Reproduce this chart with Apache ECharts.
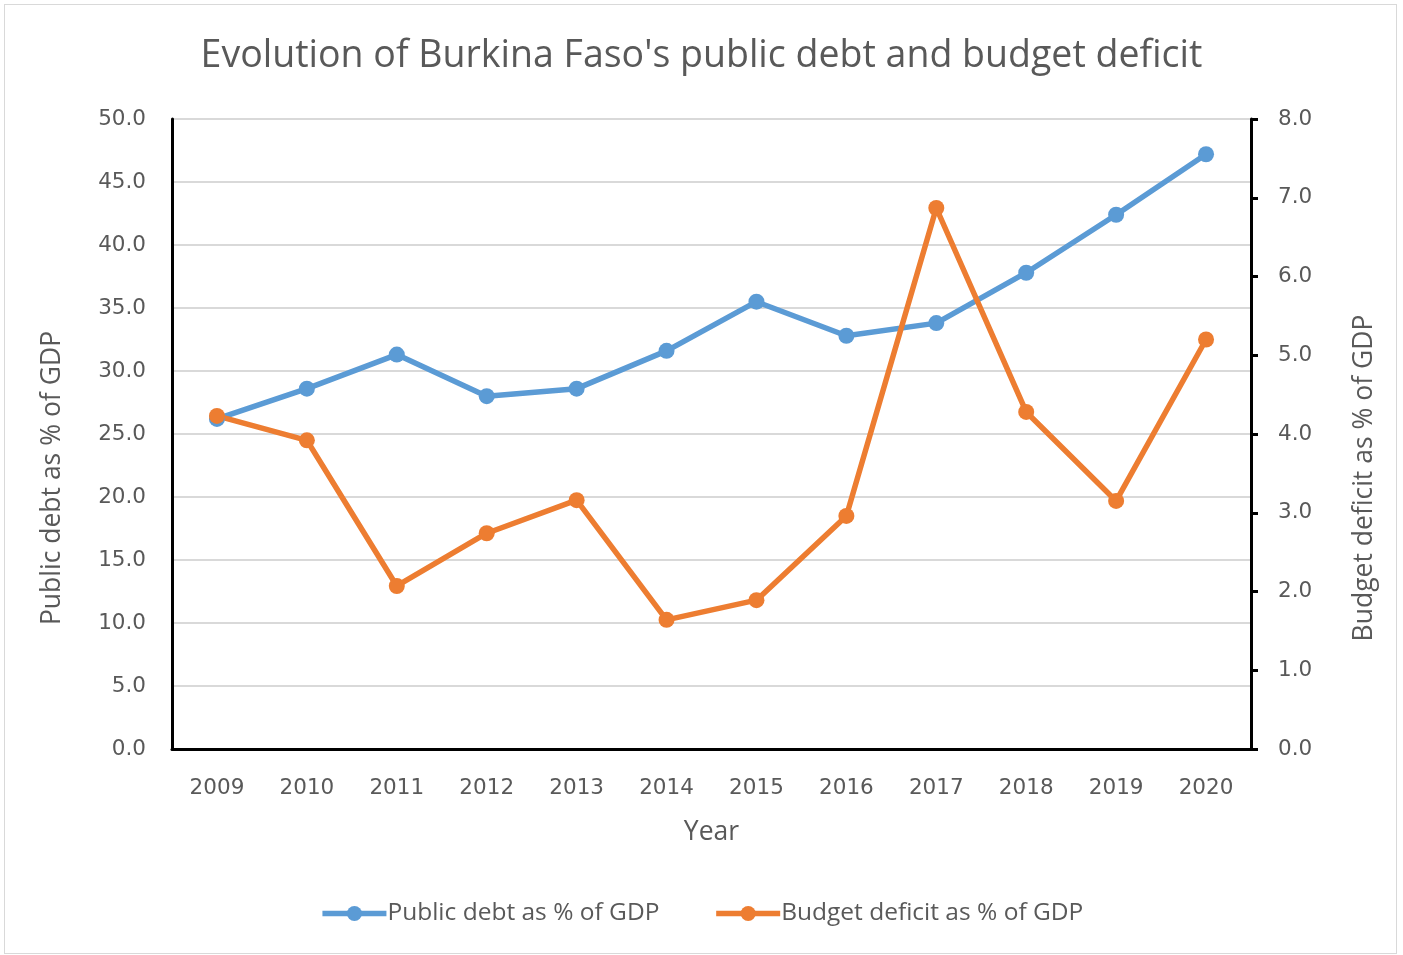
<!DOCTYPE html>
<html>
<head>
<meta charset="utf-8">
<script src="https://cdn.jsdelivr.net/npm/echarts@6/dist/echarts.min.js"></script>
<style>
  html, body { margin: 0; padding: 0; background: #fff; }
  #frame { position: absolute; left: 4px; top: 4px; width: 1393px; height: 950px; border: 1.5px solid #d9d9d9; box-sizing: border-box; }
  #chart { position: absolute; left: 0; top: 0; width: 1403px; height: 955px; }
</style>
</head>
<body>
<div id="frame"></div>
<div id="chart"></div>
<script>
// Burkina Faso: public debt and budget deficit, % of GDP
const years = ['2009', '2010', '2011', '2012', '2013', '2014', '2015', '2016', '2017', '2018', '2019', '2020'];
const publicDebt = [26.2, 28.6, 31.3, 28.0, 28.6, 31.6, 35.5, 32.8, 33.8, 37.8, 42.4, 47.2];
const budgetDeficit = [4.23, 3.92, 2.07, 2.74, 3.16, 1.64, 1.89, 2.96, 6.87, 4.28, 3.15, 5.20];

const textColor = '#595959';
const font = 'Open Sans';
const tickFont = 'DejaVu Sans';
const blue = '#5b9bd5';
const orange = '#ed7d31';

const chart = echarts.init(document.getElementById('chart'), null, { renderer: 'canvas' });
chart.setOption({
  animation: false,
  backgroundColor: 'transparent',
  title: {
    text: "Evolution of Burkina Faso's public debt and budget deficit",
    left: 'center',
    top: 32,
    textStyle: { color: textColor, fontFamily: font, fontSize: 37.5, fontWeight: 'normal' }
  },
  legend: {
    bottom: 24,
    left: 'center',
    itemGap: 54,
    itemWidth: 64,
    itemHeight: 19,
    textStyle: { color: textColor, fontFamily: font, fontSize: 24.5, padding: [0, 0, 0, -4] },
    data: [
      { name: 'Public debt as % of GDP', lineStyle: { width: 5.5, color: blue }, itemStyle: { color: blue } },
      { name: 'Budget deficit as % of GDP', lineStyle: { width: 5.5, color: orange }, itemStyle: { color: orange } }
    ]
  },
  grid: { left: 172, right: 152, top: 119, bottom: 206 },
  xAxis: {
    type: 'category',
    data: years,
    boundaryGap: true,
    name: 'Year',
    nameLocation: 'middle',
    nameGap: 70,
    nameTextStyle: { color: textColor, fontFamily: font, fontSize: 26.5 },
    axisLine: { lineStyle: { color: '#000', width: 3 } },
    axisTick: { show: false },
    axisLabel: { color: textColor, fontFamily: tickFont, fontSize: 21.5, margin: 28 }
  },
  yAxis: [
    {
      type: 'value',
      min: 0, max: 50, interval: 5,
      name: 'Public debt as % of GDP',
      nameLocation: 'middle',
      nameGap: 106,
      nameTextStyle: { color: textColor, fontFamily: font, fontSize: 26.5, padding: [0, 88, 0, 0] },
      axisLine: { show: true, lineStyle: { color: '#000', width: 3 } },
      axisTick: { show: false },
      axisLabel: { color: textColor, fontFamily: tickFont, fontSize: 21.5, margin: 26, formatter: v => v.toFixed(1) },
      splitLine: { lineStyle: { color: '#d9d9d9', width: 2 } }
    },
    {
      type: 'value',
      min: 0, max: 8, interval: 1,
      position: 'right',
      name: 'Budget deficit as % of GDP',
      nameLocation: 'middle',
      nameGap: 100,
      nameRotate: 90,
      nameTextStyle: { color: textColor, fontFamily: font, fontSize: 26.5, padding: [0, 88, 0, 0] },
      axisLine: { show: true, lineStyle: { color: '#000', width: 3 } },
      axisTick: { show: true, inside: false, length: 7, lineStyle: { color: '#000', width: 3 } },
      axisLabel: { color: textColor, fontFamily: tickFont, fontSize: 21.5, margin: 27, formatter: v => v.toFixed(1) },
      splitLine: { show: false }
    }
  ],
  series: [
    {
      name: 'Public debt as % of GDP',
      type: 'line',
      yAxisIndex: 0,
      data: publicDebt,
      symbol: 'circle',
      symbolSize: 16,
      itemStyle: { color: blue },
      lineStyle: { color: blue, width: 5.5 }
    },
    {
      name: 'Budget deficit as % of GDP',
      type: 'line',
      yAxisIndex: 1,
      data: budgetDeficit,
      symbol: 'circle',
      symbolSize: 16,
      itemStyle: { color: orange },
      lineStyle: { color: orange, width: 5.5 }
    }
  ]
});
</script>
</body>
</html>
